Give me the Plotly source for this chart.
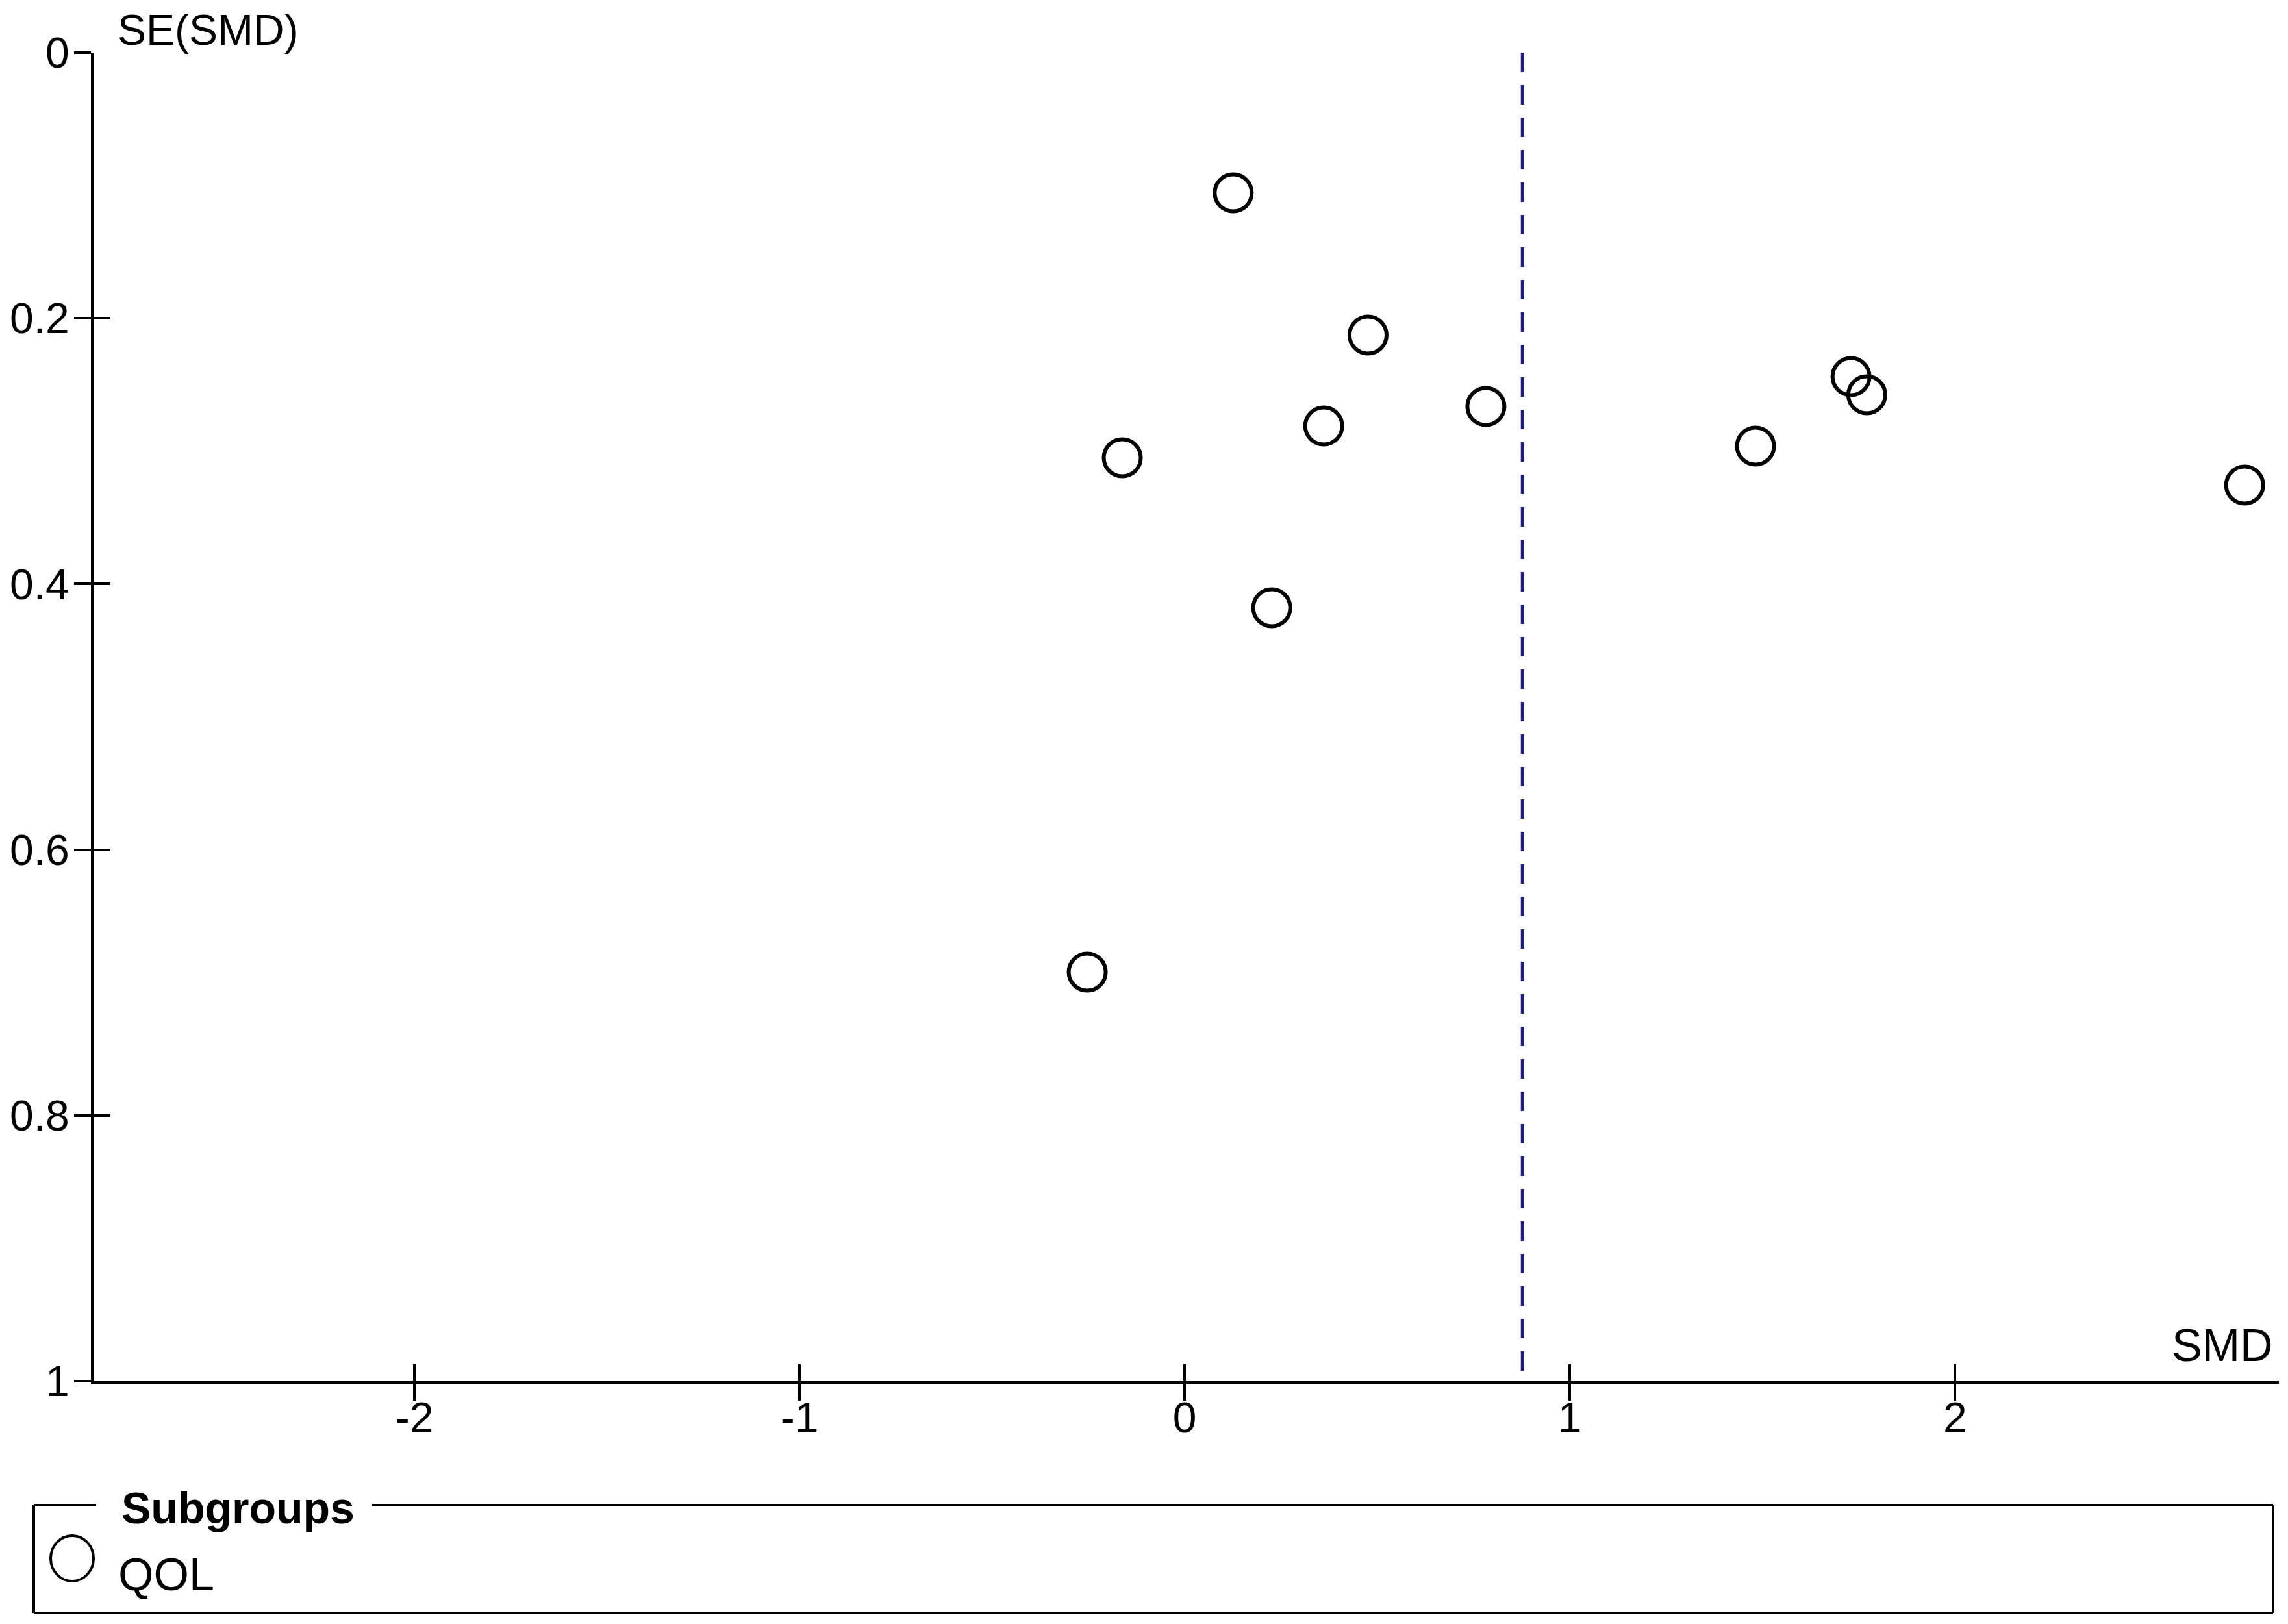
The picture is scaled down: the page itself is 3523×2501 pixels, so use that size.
import plotly.graph_objects as go

# ---- data ----
smd = [0.126, 0.476, 0.782, 0.361, -0.162, 0.226, -0.253, 1.482, 1.730, 1.771, 2.752]
se_smd = [0.1056, 0.2126, 0.2664, 0.2810, 0.3050, 0.4179, 0.6921, 0.2962, 0.2439, 0.2576, 0.3255]
pooled_smd = 0.877
subgroup_name = "QOL"

x_tickvals = [-2, -1, 0, 1, 2]
x_ticktext = ["-2", "-1", "0", "1", "2"]
y_tickvals = [0, 0.2, 0.4, 0.6, 0.8, 1]
y_ticktext = ["0", "0.2", "0.4", "0.6", "0.8", "1"]

x_range = [-2.833, 2.841]
y_range = [1, 0]

# ---- layout geometry (page pixels; the page body has an 8px margin) ----
BODY = 8
PAGE_W, PAGE_H = 3523, 2501
PL, PR, PT, PB = 144, 3509, 81, 2127          # plot area in page pixels
W, H = PAGE_W - 2 * BODY, PAGE_H - 2 * BODY
ML, MT = PL - BODY, PT - BODY
MR, MB = W - (PR - BODY), H - (PB - BODY)
PW, PH = PR - PL, PB - PT


def px(xp):
    return (xp - PL) / PW


def py(yp):
    return (PB - yp) / PH


TICK_FONT = dict(family="Liberation Sans Narrow, Liberation Sans, Arial", size=66, color="black")
LABEL_FONT = dict(family="Liberation Sans, Arial", size=70, color="black")

fig = go.Figure()

fig.add_trace(go.Scatter(
    x=smd, y=se_smd, mode="markers", name=subgroup_name, showlegend=False,
    marker=dict(symbol="circle-open", size=57, color="black", line=dict(width=6, color="black")),
    xaxis="x", yaxis="y",
))

fig.add_trace(go.Scatter(
    x=[pooled_smd, pooled_smd], y=[y_range[1], y_range[0]], mode="lines", showlegend=False,
    line=dict(color="#1c1c86", width=5, dash="30px,20px"),
    xaxis="x2", yaxis="y2",
))

axis_common = dict(showgrid=False, zeroline=False, tickcolor="black", tickwidth=4, ticklen=26)

fig.update_layout(
    width=W, height=H,
    margin=dict(l=ML, r=MR, t=MT, b=MB, pad=0),
    paper_bgcolor="white", plot_bgcolor="white",
    showlegend=False,
    xaxis=dict(range=x_range, tickvals=x_tickvals, ticktext=x_ticktext, ticks="outside",
               showline=True, linecolor="black", linewidth=4, tickfont=TICK_FONT,
               ticklabelstandoff=-30, **axis_common),
    yaxis=dict(range=y_range, tickvals=y_tickvals, ticktext=y_ticktext, ticks="outside",
               showline=True, linecolor="black", linewidth=4, tickfont=TICK_FONT,
               ticklabelstandoff=-6, **axis_common),
    xaxis2=dict(range=x_range, tickvals=x_tickvals, ticks="inside", showticklabels=False,
                showline=False, overlaying="x", anchor="y2", side="bottom", **axis_common),
    yaxis2=dict(range=y_range, tickvals=y_tickvals, ticks="inside", showticklabels=False,
                showline=False, overlaying="y", anchor="x2", side="left", **axis_common),
)

# axis labels
fig.add_annotation(text="SE(SMD)", xref="paper", yref="paper", x=px(180), y=1, yshift=MT,
                   xanchor="left", yanchor="top", showarrow=False, borderpad=0,
                   font=dict(family="Liberation Sans, Arial", size=66, color="black"))
fig.add_annotation(text="SMD", xref="paper", yref="paper", x=px(3502), y=0, yshift=14,
                   xanchor="right", yanchor="bottom", showarrow=False, font=LABEL_FONT)

# legend box ("Subgroups") drawn as a framed key
line_style = dict(color="black", width=4)
bx0, bx1, by0, by1 = px(52), px(3500), py(2318), py(2484)
for x0, y0, x1, y1 in [
    (bx0, by0, px(148), by0),      # top-left segment
    (px(573), by0, bx1, by0),      # top-right segment
    (bx0, by0, bx0, by1),          # left
    (bx1, by0, bx1, by1),          # right
    (bx0, by1, bx1, by1),          # bottom
]:
    fig.add_shape(type="line", xref="paper", yref="paper", x0=x0, y0=y0, x1=x1, y1=y1, line=line_style)

fig.add_annotation(text="<b>Subgroups</b>", xref="paper", yref="paper", x=px(186), y=py(2322),
                   xanchor="left", yanchor="middle", showarrow=False, borderpad=0,
                   font=dict(family="Liberation Sans, Arial", size=68, color="black"))
fig.add_shape(type="circle", xref="paper", yref="paper", xsizemode="pixel", ysizemode="pixel",
              xanchor=px(111), yanchor=py(2400), x0=-33, x1=33, y0=-35, y1=35,
              line=line_style)
fig.add_annotation(text=subgroup_name, xref="paper", yref="paper", x=px(181), y=py(2425),
                   xanchor="left", yanchor="middle", showarrow=False, borderpad=0, font=LABEL_FONT)

fig.write_html("out.html")
